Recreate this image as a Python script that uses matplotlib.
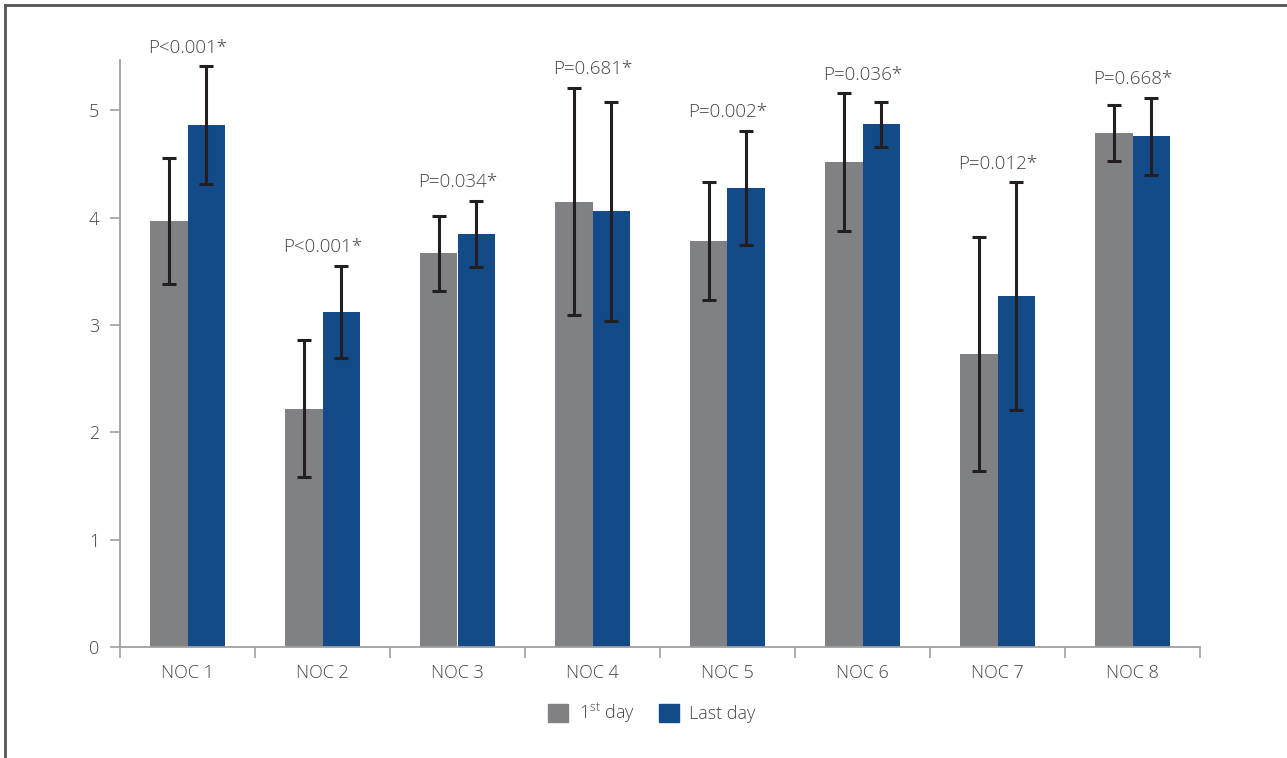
import matplotlib
matplotlib.use("Agg")
import matplotlib.pyplot as plt
import numpy as np
from matplotlib.lines import Line2D
from matplotlib.patches import Patch

plt.rcParams['font.family'] = ['Open Sans', 'DejaVu Sans']
plt.rcParams['font.weight'] = 'light'
plt.rcParams['mathtext.fontset'] = 'custom'
plt.rcParams['mathtext.rm'] = 'Open Sans:light'

categories = ["NOC 1", "NOC 2", "NOC 3", "NOC 4", "NOC 5", "NOC 6", "NOC 7", "NOC 8"]
first_day = [3.97, 2.22, 3.67, 4.15, 3.78, 4.52, 2.73, 4.79]
first_err = [0.59, 0.64, 0.35, 1.06, 0.55, 0.64, 1.09, 0.26]
last_day = [4.86, 3.12, 3.85, 4.06, 4.28, 4.87, 3.27, 4.76]
last_err = [0.55, 0.43, 0.31, 1.02, 0.53, 0.21, 1.06, 0.36]
p_labels = ["P<0.001*", "P<0.001*", "P=0.034*", "P=0.681*", "P=0.002*", "P=0.036*", "P=0.012*", "P=0.668*"]
series_names = [r"1$^{\mathrm{st}}$ day", "Last day"]

GRAY = "#808184"
BLUE = "#134A88"
TXT = "#444444"
AX = "#A0A0A0"

fig = plt.figure(figsize=(12.87, 7.58), dpi=100)
ax = fig.add_axes([120/1287, 1-647/758, 1080/1287, (647-60)/758])

x = np.arange(len(categories))
w = 0.28
ekw = dict(ecolor="#231F20", elinewidth=2.2, capsize=5, capthick=2.2)
ax.bar(x - w/2, first_day, w, color=GRAY, yerr=first_err, error_kw=ekw, zorder=2)
ax.bar(x + w/2, last_day, w, color=BLUE, yerr=last_err, error_kw=ekw, zorder=2)

for i, lab in enumerate(p_labels):
    top = max(first_day[i] + first_err[i], last_day[i] + last_err[i])
    ax.annotate(lab, (x[i], top), xytext=(0, 7), textcoords="offset points",
                ha="center", va="bottom", fontsize=13.5, color=TXT)

ax.set_xlim(-0.5, len(categories) - 0.5)
ax.set_ylim(0, 5.47)
ax.set_yticks([0, 1, 2, 3, 4, 5])
ax.set_xticks(x)
ax.set_xticklabels(categories)
ax.set_xticks(np.arange(len(categories) + 1) - 0.5, minor=True)
ax.tick_params(axis="x", which="major", length=0, pad=12, labelsize=13, labelcolor=TXT)
ax.tick_params(axis="x", which="minor", length=8, width=1.2, color=AX)
ax.tick_params(axis="y", length=7, width=1.2, color=AX, pad=8, labelsize=13, labelcolor=TXT)
for s in ["top", "right"]:
    ax.spines[s].set_visible(False)
for s in ["left", "bottom"]:
    ax.spines[s].set_color(AX)
    ax.spines[s].set_linewidth(1.3)

handles = [Patch(color=GRAY), Patch(color=BLUE)]
fig.legend(handles, series_names, loc="center", bbox_to_anchor=(652/1287, 1-713/758),
           ncol=2, frameon=False, fontsize=13, handlelength=1.1, handleheight=1.1,
           handletextpad=0.6, columnspacing=1.3, labelcolor=TXT)

fig.add_artist(Line2D([5/1287, 5/1287], [0, 1-5/758], color="#555555", lw=2, transform=fig.transFigure))
fig.add_artist(Line2D([5/1287, 1], [1-5/758, 1-5/758], color="#555555", lw=2, transform=fig.transFigure))

fig.savefig("out.png", dpi=100)
